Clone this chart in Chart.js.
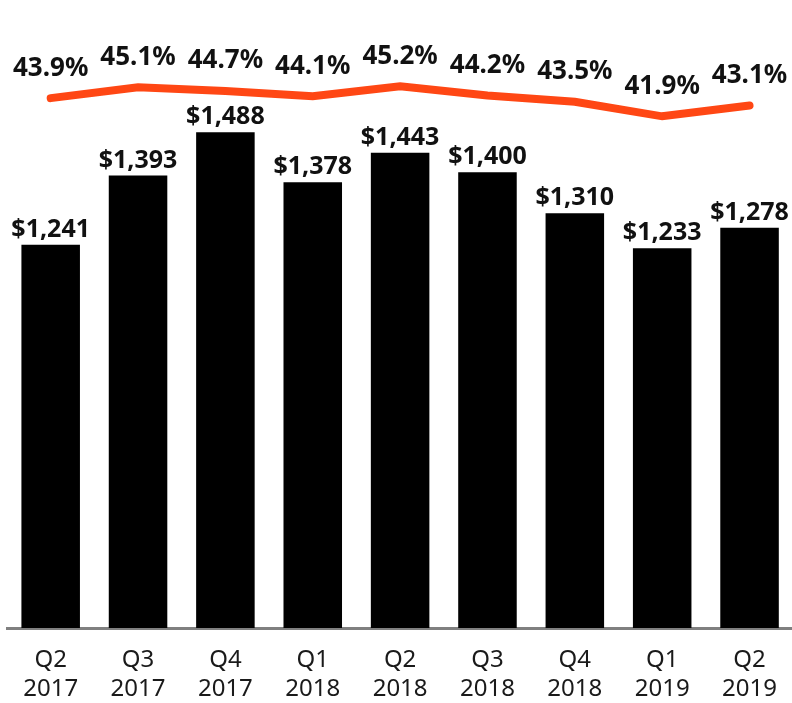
<!DOCTYPE html>
<html>
<head>
<meta charset="utf-8">
<script src="https://cdn.jsdelivr.net/npm/chart.js@4"></script>
<style>
  html, body { margin: 0; padding: 0; background: #fff; overflow: hidden; }
  /* slightly wider than the window: the last bar sits close to the right edge */
  #wrap { width: 795px; height: 703px; }
</style>
</head>
<body>
<div id="wrap"><canvas id="revChart"></canvas></div>
<script>
// Quarterly revenue ($M) with margin line on top
const quarters = [['Q2', '2017'], ['Q3', '2017'], ['Q4', '2017'], ['Q1', '2018'], ['Q2', '2018'],
                  ['Q3', '2018'], ['Q4', '2018'], ['Q1', '2019'], ['Q2', '2019']];
const revenue = [1241, 1393, 1488, 1378, 1443, 1400, 1310, 1233, 1278];
const margin = [43.9, 45.1, 44.7, 44.1, 45.2, 44.2, 43.5, 41.9, 43.1];

// draws the value labels above bars and line points
const valueLabels = {
    id: 'valueLabels',
    afterDatasetsDraw(chart) {
        const ctx = chart.ctx;
        ctx.save();
        ctx.fillStyle = '#111';
        ctx.textAlign = 'center';
        ctx.textBaseline = 'middle';

        ctx.font = 'bold 25px "Noto Sans"';
        chart.getDatasetMeta(1).data.forEach((bar, i) => {
            ctx.fillText('$' + revenue[i].toLocaleString('en-US'), bar.x, bar.y - 15);
        });
        ctx.font = 'bold 26px "Noto Sans"';
        chart.getDatasetMeta(0).data.forEach((pt, i) => {
            ctx.fillText(margin[i].toFixed(1) + '%', pt.x, pt.y - 30);
        });
        ctx.restore();
    }
};

const ctx = document.getElementById('revChart').getContext('2d');
new Chart(ctx, {
    type: 'bar',
    data: {
        labels: quarters,
        datasets: [
            {
                type: 'line',
                label: 'Margin',
                data: margin,
                yAxisID: 'y1',
                borderColor: '#ff4714',
                borderWidth: 8,
                borderCapStyle: 'round',
                pointRadius: 0,
                tension: 0,
                fill: false
            },
            {
                label: 'Revenue',
                data: revenue,
                yAxisID: 'y',
                backgroundColor: '#000',
                barPercentage: 0.67,
                categoryPercentage: 1.0
            }
        ]
    },
    options: {
        responsive: true,
        maintainAspectRatio: false,
        animation: false,
        layout: { padding: { left: 7, right: 0, top: 0, bottom: 0 } },
        plugins: {
            legend: { display: false },
            tooltip: { enabled: false }
        },
        scales: {
            x: {
                grid: { drawOnChartArea: false, drawTicks: false },
                border: { display: true, color: '#808080', width: 3 },
                ticks: {
                    color: '#1a1a1a',
                    padding: 18,
                    font: { family: '"Noto Sans"', size: 24, lineHeight: 1.2 }
                },
                afterFit(scale) { scale.height = 75; }
            },
            y: {
                display: false,
                min: 400,
                max: 1778
            },
            y1: {
                display: false,
                min: -14.4,
                max: 54.7
            }
        }
    },
    plugins: [valueLabels]
});
</script>
</body>
</html>
